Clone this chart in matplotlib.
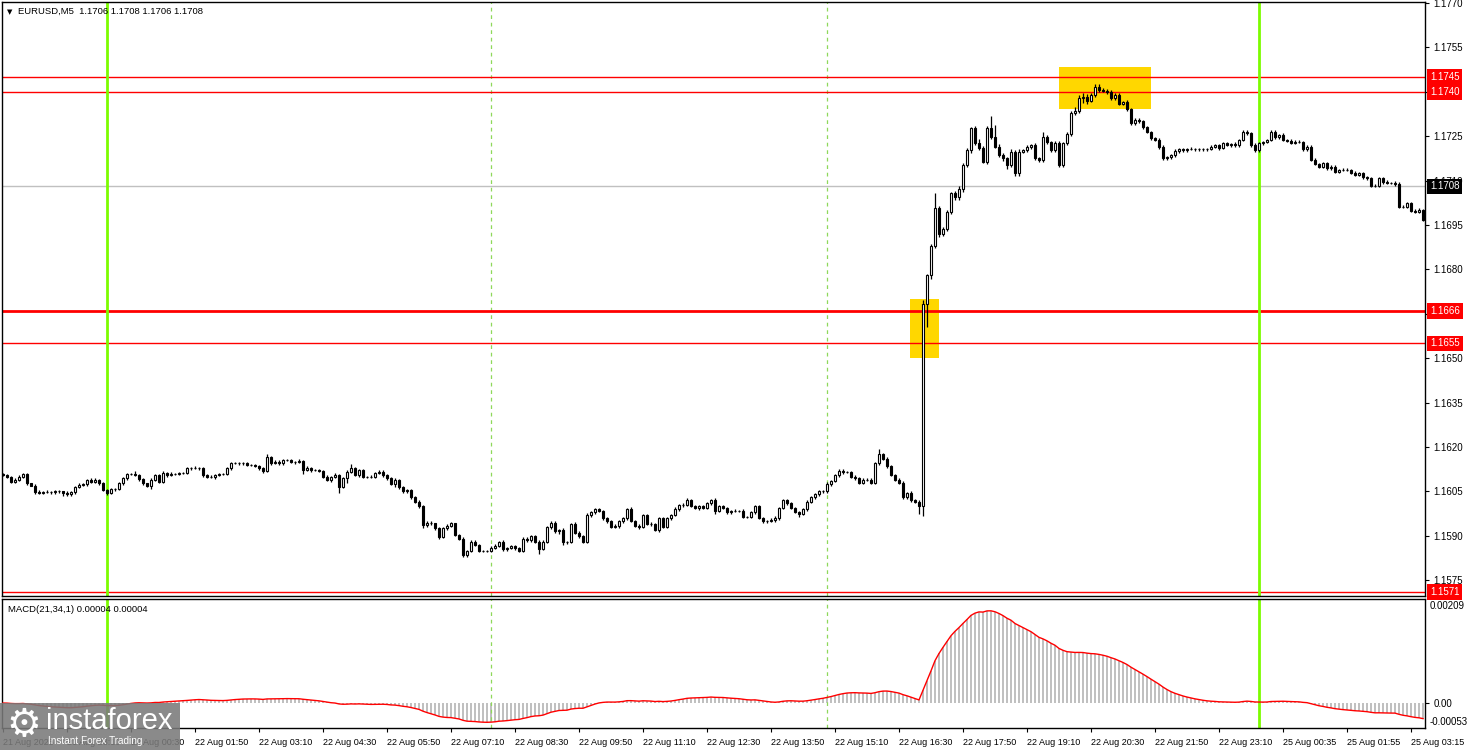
import numpy as np
import pandas as pd
import matplotlib
matplotlib.use("Agg")
import matplotlib.pyplot as plt
from matplotlib.transforms import blended_transform_factory
from matplotlib.patches import Rectangle

# ---------------- data (prices in pips above 1.1000) ----------------
first_open = 611.0
close_pips = [
    610.5, 610, 608.3, 609, 610, 610.8, 607.7, 607, 604.9, 604.6, 604.8, 604.9, 604.7, 605, 605, 604.4,
    604, 604.8, 606.6, 607.2, 607.5, 608.9, 608.3, 609, 607.7, 605.5, 604.4, 605.7, 605.8, 607.7, 609.4, 611,
    611, 610.5, 609.1, 607.7, 607, 608.9, 610.5, 608.3, 611.4, 610.5, 611, 611, 611.2, 611.3, 612.8, 613,
    613, 613, 610.5, 610, 609.8, 610.5, 611, 611, 612.8, 614.5, 614.5, 614.5, 614.5, 614, 613.9, 613.6,
    612.8, 612, 616.7, 614.5, 615, 614.5, 615.6, 615.6, 615, 615, 615.2, 612.4, 613, 612.2, 612.2, 612,
    610, 608.9, 610, 610.5, 606.6, 609.4, 611.7, 612.8, 610.5, 612.2, 610, 609.9, 610, 611.1, 611.7, 610.5,
    609.4, 607.5, 608.9, 606.5, 605, 605.5, 603.2, 601.5, 600, 593.6, 594.5, 594.2, 592.5, 589.7, 592.5, 593.5,
    594.2, 590.3, 589.1, 583.5, 585, 588, 587, 585, 585, 585, 586, 586.5, 588, 585.5, 586, 586.5,
    586, 585, 589, 588.5, 590, 588, 585.5, 588, 593, 594.5, 591.5, 592, 588, 588, 594, 591,
    590, 588, 597, 598, 599, 598.5, 596, 595, 593, 593.5, 595, 596, 599, 595, 593.5, 593,
    597, 594, 594, 592, 596, 593, 596, 597, 599, 600.5, 600.5, 602, 600, 599.5, 600, 599.5,
    601, 602, 598.5, 600, 599.5, 598, 598.5, 598.5, 598.5, 596.5, 596.5, 598, 600, 596, 595, 595,
    595.5, 596, 599.5, 602, 601, 599.5, 598, 597.5, 599, 601.5, 603, 604, 605, 605, 607.5, 608.5,
    610.5, 612, 611.5, 611.5, 610, 609.5, 608, 609, 609, 608, 614.5, 617.5, 616, 613.5, 610.5, 609,
    608, 603, 604.5, 602, 601.5, 600, 668.3, 678, 688, 700.6, 692, 693.8, 699.5, 705.7, 704.5, 707,
    715.3, 720.3, 727.7, 722.6, 721, 716.4, 727.7, 724.8, 721.5, 718.6, 717.5, 715.3, 719.8, 712.5, 719.8, 720.3,
    721.5, 722, 717.5, 717, 724.8, 723, 720.3, 722.6, 715.3, 722.6, 725.7, 732.7, 733.5, 737.8, 738.3, 737,
    738.9, 741.7, 740.6, 740.3, 740, 737.8, 738.9, 736, 736.5, 734, 729.5, 730.5, 730, 728, 726.5, 724.3,
    723.7, 721.5, 717.5, 718, 718.6, 720, 720.6, 720.2, 720.6, 720.6, 720.5, 720.5, 720.6, 720.6, 721.5, 722,
    721, 722.6, 722, 722.3, 722, 723.7, 726.5, 726, 722, 720.3, 722.6, 723.1, 723.7, 726.5, 724.6, 725.4,
    723.7, 723.5, 722.8, 723.1, 723.1, 720.6, 721.5, 717, 715.5, 714.7, 715.8, 714.1, 714.7, 713, 713.6, 713.6,
    713.6, 712.7, 712, 712.5, 711.1, 710.8, 708.2, 708.2, 710.8, 709.6, 709.2, 709.2, 708.8, 701.2, 701.2, 702.3,
    699.8, 699.5, 700.1, 696.7,
]
# upper / lower wick lengths, in tenths of a pip
wick_up = [
    3, 4, 3, 5, 4, 3, 4, 3, 4, 5, 3, 5, 3, 4, 5, 2, 6, 5, 4, 5,
    3, 4, 6, 4, 3, 4, 3, 4, 3, 5, 6, 4, 3, 8, 3, 4, 3, 5, 4, 3,
    4, 3, 5, 3, 4, 3, 6, 4, 5, 3, 4, 3, 5, 4, 3, 4, 5, 6, 4, 3,
    5, 3, 4, 3, 5, 4, 10, 4, 6, 5, 4, 3, 5, 4, 6, 3, 5, 4, 3, 4,
    4, 5, 3, 6, 4, 5, 4, 15, 3, 5, 4, 3, 6, 4, 5, 4, 3, 4, 6, 4,
    3, 5, 4, 3, 6, 4, 5, 4, 3, 5, 4, 6, 4, 3, 5, 4, 3, 6, 5, 4,
    4, 3, 5, 6, 4, 5, 3, 4, 5, 4, 6, 5, 4, 3, 6, 5, 4, 6, 5, 4,
    5, 4, 3, 6, 5, 4, 6, 4, 5, 3, 4, 5, 4, 6, 5, 4, 3, 6, 4, 5,
    4, 5, 6, 4, 5, 4, 3, 5, 6, 4, 5, 8, 4, 5, 4, 3, 6, 5, 8, 4,
    5, 4, 3, 5, 4, 6, 3, 5, 4, 5, 4, 3, 5, 6, 4, 5, 4, 5, 3, 4,
    4, 5, 6, 5, 4, 5, 6, 5, 4, 6, 5, 4, 5, 6, 4, 5, 4, 5, 6, 20,
    6, 5, 4, 5, 6, 5, 4, 5, 4, 5, 12, 4, 6, 52, 8, 5, 6, 6, 7, 12,
    6, 8, 5, 6, 15, 8, 7, 40, 40, 8, 6, 5, 7, 6, 8, 5, 6, 5, 6, 5,
    15, 6, 5, 7, 6, 5, 6, 7, 12, 10, 12, 8, 6, 8, 9, 5, 6, 6, 5, 7,
    5, 6, 5, 6, 5, 6, 5, 4, 5, 6, 5, 4, 5, 6, 5, 4, 5, 6, 4, 5,
    5, 4, 6, 5, 4, 5, 4, 5, 6, 5, 6, 7, 5, 6, 5, 4, 5, 6, 5, 4,
    5, 4, 5, 6, 5, 4, 5, 6, 5, 4, 5, 6, 4, 5, 4, 6, 5, 4, 5, 4,
    5, 4, 5, 6, 5, 4, 5, 4, 5, 6, 5, 4, 5, 6, 5, 4,
]
wick_dn = [
    4, 3, 5, 4, 3, 5, 4, 3, 8, 4, 5, 3, 4, 5, 4, 10, 6, 4, 5, 3,
    4, 5, 3, 6, 4, 5, 6, 4, 5, 3, 4, 5, 6, 3, 4, 5, 4, 10, 5, 4,
    3, 5, 4, 3, 5, 4, 3, 5, 4, 6, 5, 4, 3, 5, 4, 3, 4, 5, 3, 4,
    4, 5, 3, 4, 5, 6, 4, 5, 3, 4, 5, 4, 3, 6, 4, 15, 4, 5, 3, 4,
    5, 4, 6, 5, 20, 4, 15, 5, 4, 5, 6, 4, 5, 4, 3, 5, 6, 4, 10, 5,
    4, 5, 6, 4, 5, 8, 6, 5, 4, 8, 5, 4, 6, 5, 4, 5, 6, 4, 5, 6,
    5, 4, 6, 5, 4, 6, 5, 4, 6, 5, 4, 5, 6, 5, 15, 4, 5, 6, 5, 8,
    10, 6, 5, 4, 6, 5, 4, 5, 6, 4, 5, 6, 5, 4, 8, 5, 6, 4, 5, 6,
    5, 4, 6, 5, 6, 5, 4, 5, 4, 5, 6, 5, 4, 5, 6, 4, 5, 6, 10, 5,
    4, 5, 6, 4, 5, 6, 4, 5, 6, 4, 5, 6, 4, 8, 5, 4, 6, 5, 4, 10,
    5, 6, 4, 5, 6, 4, 5, 6, 4, 5, 6, 4, 5, 6, 4, 5, 6, 4, 5, 6,
    5, 6, 4, 5, 6, 4, 5, 6, 4, 25, 34, 78, 12, 8, 10, 6, 8, 7, 10, 12,
    8, 6, 10, 7, 8, 6, 8, 7, 6, 8, 10, 15, 6, 10, 8, 6, 5, 8, 6, 7,
    8, 6, 7, 5, 8, 6, 7, 6, 5, 8, 15, 10, 6, 7, 6, 5, 8, 6, 7, 6,
    6, 5, 7, 6, 5, 6, 5, 6, 5, 8, 6, 5, 6, 5, 6, 5, 6, 4, 5, 6,
    5, 6, 4, 5, 6, 5, 4, 5, 6, 5, 4, 5, 6, 5, 6, 5, 4, 5, 6, 5,
    4, 5, 6, 5, 4, 5, 6, 5, 4, 5, 6, 5, 4, 5, 6, 5, 4, 6, 5, 4,
    5, 6, 5, 4, 5, 6, 5, 4, 6, 5, 6, 5, 4, 5, 6, 5,
]

time_labels = ["21 Aug 2025", "21 Aug 23:10", "22 Aug 00:30", "22 Aug 01:50", "22 Aug 03:10",
               "22 Aug 04:30", "22 Aug 05:50", "22 Aug 07:10", "22 Aug 08:30", "22 Aug 09:50",
               "22 Aug 11:10", "22 Aug 12:30", "22 Aug 13:50", "22 Aug 15:10", "22 Aug 16:30",
               "22 Aug 17:50", "22 Aug 19:10", "22 Aug 20:30", "22 Aug 21:50", "22 Aug 23:10",
               "25 Aug 00:35", "25 Aug 01:55", "25 Aug 03:15"]
label_step = 16

price_ticks = [1.1575, 1.1590, 1.1605, 1.1620, 1.1635, 1.1650, 1.1665, 1.1680,
               1.1695, 1.1710, 1.1725, 1.1740, 1.1755, 1.1770]
hidden_ticks = [1.1740]          # fully covered by a level box in the reference
red_levels = [1.1745, 1.1740, 1.1666, 1.1655, 1.1571]
red_widths = [1.0, 1.0, 2.0, 1.0, 1.0]
last_price = 1.1708

title_text = "EURUSD,M5  1.1706 1.1708 1.1706 1.1708"
macd_text = "MACD(21,34,1) 0.00004 0.00004"
macd_max_label, macd_min_label = "0.00209", "-0.00053"

# ---------------- derived ----------------
BASE = 1.1
closes = BASE + np.array(close_pips) / 1e4
opens = np.r_[BASE + first_open / 1e4, closes[:-1]]
highs = np.maximum(opens, closes) + np.array(wick_up) * 1e-5
lows = np.minimum(opens, closes) - np.array(wick_dn) * 1e-5
n = len(closes)
idx = np.arange(n)

cs = pd.Series(closes)
macd = (cs.ewm(span=21, adjust=False).mean() - cs.ewm(span=34, adjust=False).mean()).values

# ---------------- figure ----------------
W, H = 1468, 750
fig = plt.figure(figsize=(W / 100, H / 100), dpi=100)
fig.patch.set_facecolor("white")
FONT = "Liberation Sans"

def px_axes(x0, y0, x1, y1):
    return fig.add_axes([x0 / W, 1 - y1 / H, (x1 - x0) / W, (y1 - y0) / H])

ax = px_axes(2, 2, 1425, 596)
axm = px_axes(2, 599, 1425, 728)

for a in (ax, axm):
    for s in a.spines.values():
        s.set_linewidth(1.0)
        s.set_color("black")
    a.set_xlim(-0.25, 355.5)

ax.set_ylim(1.15697, 1.17703)

# yellow zones
ax.add_patch(Rectangle((226.75, 1.16501), 7.25, 1.16700 - 1.16501, facecolor="#ffd700",
                       edgecolor="none", zorder=1))
ax.add_patch(Rectangle((264.0, 1.17342), 23.0, 1.17485 - 1.17342, facecolor="#ffd700",
                       edgecolor="none", zorder=1))

# horizontal levels
for lv, lw in zip(red_levels, red_widths):
    ax.axhline(lv, color="#ff0000", lw=lw, zorder=2)
ax.axhline(last_price, color="#c0c0c0", lw=1.0, zorder=1.5)

# vertical lines
for a in (ax, axm):
    for b in (26, 314):
        a.axvline(b, color="#7cfc00", lw=2.0, zorder=2.5)
    for b in (122, 206):
        a.axvline(b, color="#8fd85a", lw=0.9, ls=(0, (3, 3)), zorder=1.2)

# candles
ax.vlines(idx, lows, highs, color="black", lw=0.9, zorder=3)
upm = closes >= opens
bb = np.minimum(opens, closes)
bh = np.abs(closes - opens)
ax.bar(idx[upm], bh[upm], bottom=bb[upm], width=0.62, color="white", edgecolor="black",
       linewidth=0.8, zorder=4)
ax.bar(idx[~upm], bh[~upm], bottom=bb[~upm], width=0.62, color="black", edgecolor="black",
       linewidth=0.8, zorder=4)

# price axis
ax.yaxis.tick_right()
ax.set_yticks(price_ticks)
ax.set_yticklabels(["" if p in hidden_ticks else f"{p:.4f}" for p in price_ticks],
                   fontsize=7, family=FONT)
ax.tick_params(axis="y", length=3, width=0.8, pad=3, direction="out")
ax.set_xticks([])

tr = blended_transform_factory(ax.transAxes, ax.transData)
for lv in red_levels:
    ax.text(1.0035, lv, f"{lv:.4f}", transform=tr, ha="left", va="center", fontsize=7,
            family=FONT, color="white", zorder=10, clip_on=False,
            bbox=dict(boxstyle="square,pad=0.3", fc="#ff0000", ec="none"))
ax.text(1.0035, last_price, f"{last_price:.4f}", transform=tr, ha="left", va="center", fontsize=7,
        family=FONT, color="white", zorder=10, clip_on=False,
        bbox=dict(boxstyle="square,pad=0.3", fc="black", ec="none"))

ax.text(0.0035, 0.9835, "▼", transform=ax.transAxes, fontsize=5, ha="left", va="center",
        family="DejaVu Sans")
ax.text(0.0115, 0.9835, title_text, transform=ax.transAxes, fontsize=6.8, ha="left",
        va="center", family=FONT)

# MACD panel
axm.set_ylim(-0.000533, 0.00222)
axm.bar(idx, macd, width=0.5, color="#c0c0c0", edgecolor="none", zorder=1)
axm.plot(idx, macd, color="#ff0000", lw=1.0, zorder=3)
axm.yaxis.tick_right()
axm.set_yticks([0.0])
axm.set_yticklabels(["0.00"], fontsize=7, family=FONT)
axm.tick_params(axis="y", length=3, width=0.8, pad=3)
axm.text(1.003, 0.985, macd_max_label, transform=axm.transAxes, ha="left", va="top",
         fontsize=7, family=FONT)
axm.text(1.003, 0.05, macd_min_label, transform=axm.transAxes, ha="left", va="center",
         fontsize=7, family=FONT)
axm.text(0.0045, 0.95, macd_text, transform=axm.transAxes, ha="left", va="top",
         fontsize=6.8, family=FONT)

xt = list(range(0, n, label_step))[:len(time_labels)]
axm.set_xticks(xt)
axm.set_xticklabels(time_labels, fontsize=6.5, family=FONT, ha="left")
axm.tick_params(axis="x", length=3, width=0.8, pad=4)

# watermark logo
fig.patches.append(Rectangle((0, 0), 180 / W, 47 / H, transform=fig.transFigure,
                             facecolor="#7a7a7a", alpha=0.88, edgecolor="none", zorder=20))
fig.text(24 / W, 1 - 725 / H, "⚙", fontsize=28, color="white", ha="center", va="center",
         family="DejaVu Sans", zorder=21)
fig.text(46 / W, 1 - 721 / H, "instaforex", fontsize=21, color="white", ha="left",
         va="center", family=FONT, zorder=21)
fig.text(48 / W, 1 - 741 / H, "Instant Forex Trading", fontsize=7.2, color="white",
         ha="left", va="center", family=FONT, zorder=21)

fig.savefig("out.png", dpi=100)
